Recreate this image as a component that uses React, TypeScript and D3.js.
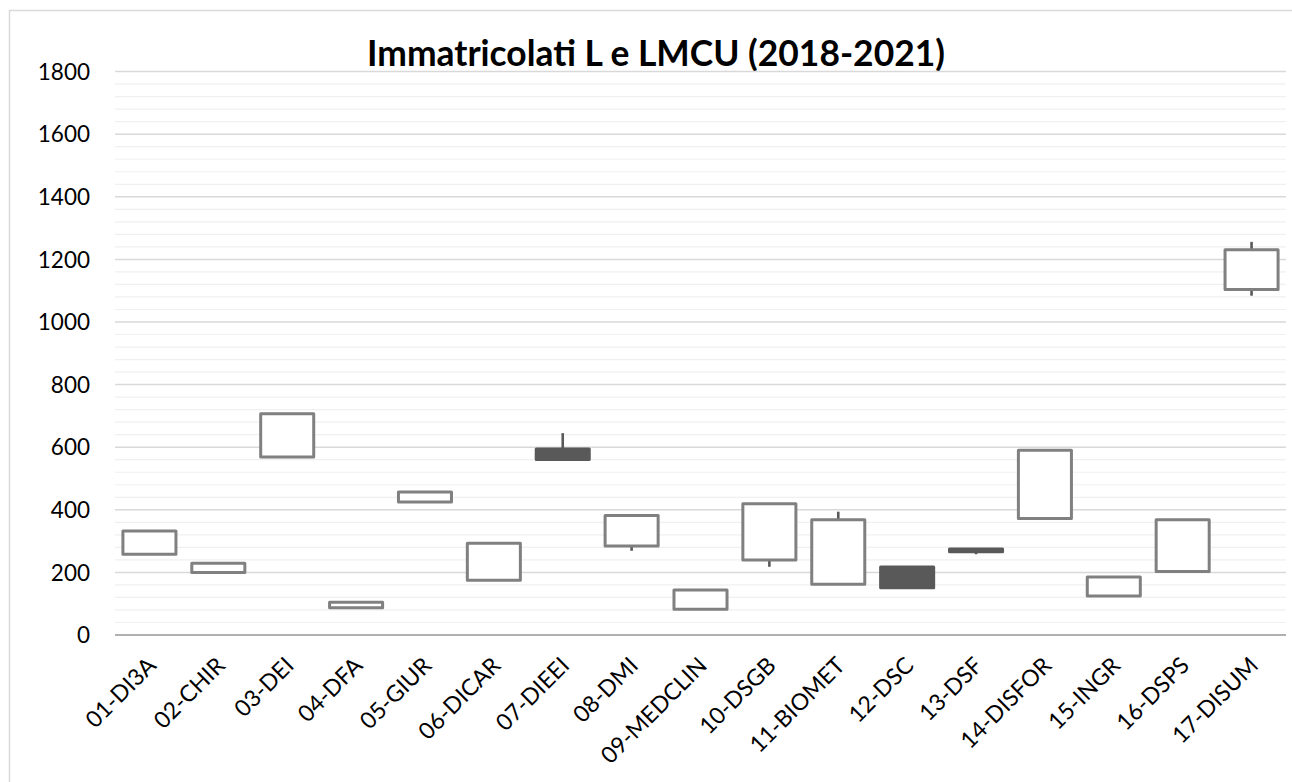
import React from "react";
import * as d3 from "d3";

const categories = [
  "01-DI3A", "02-CHIR", "03-DEI", "04-DFA", "05-GIUR", "06-DICAR", "07-DIEEI", "08-DMI",
  "09-MEDCLIN", "10-DSGB", "11-BIOMET", "12-DSC", "13-DSF", "14-DISFOR", "15-INGR", "16-DSPS", "17-DISUM",
];
const openValues = [258, 200, 569, 87, 425, 175, 594, 284, 82, 240, 162, 217, 275, 372, 125, 203, 1104];
const highValues = [332, 229, 707, 105, 457, 293, 645, 382, 144, 419, 394, 217, 275, 590, 185, 368, 1256];
const lowValues = [258, 200, 569, 87, 425, 175, 561, 269, 82, 218, 162, 151, 258, 372, 125, 203, 1084];
const closeValues = [332, 229, 707, 105, 457, 293, 561, 382, 144, 419, 368, 151, 266, 590, 185, 368, 1231];
const yTicks = [0, 200, 400, 600, 800, 1000, 1200, 1400, 1600, 1800];
const minorTicks = d3.range(0, 1801, 40);
const title = "Immatricolati L e LMCU (2018-2021)";

const W = 1292;
const H = 782;
const left = 115;
const right = 1286;
const top = 71.6;
const bottom = 635;

export default function App() {
  const x = d3.scaleBand<string>().domain(categories).range([left, right]).paddingInner(0.23).paddingOuter(0.115);
  const xc = d3.scaleBand<string>().domain(categories).range([left, right]);
  const y = d3.scaleLinear().domain([0, 1800]).range([bottom, top]);
  const font = "Lato, 'Open Sans', sans-serif";

  return (
    <div style={{ position: "fixed", left: 0, top: 0 }}>
      <svg width={W} height={H} style={{ display: "block", background: "#fff" }}>
        <rect x={9.5} y={10.5} width={1400} height={900} fill="#fff" stroke="#d9d9d9" strokeWidth={1.5} />
        <text x={656} y={66} textAnchor="middle" fontFamily={font} fontWeight={700} fontSize={35.4} fill="#000">
          {title}
        </text>
        {minorTicks.filter((t) => t % 200 !== 0).map((t) => (
          <line key={"m" + t} x1={left} x2={right} y1={y(t)} y2={y(t)} stroke="#f0f0f0" strokeWidth={1.2} />
        ))}
        {yTicks.filter((t) => t !== 0).map((t) => (
          <line key={"g" + t} x1={left} x2={right} y1={y(t)} y2={y(t)} stroke="#d9d9d9" strokeWidth={1.5} />
        ))}
        <line x1={left} x2={right} y1={y(0)} y2={y(0)} stroke="#b0b0b0" strokeWidth={1.8} />
        {yTicks.map((t) => (
          <text key={"t" + t} x={90} y={y(t)} dy="0.36em" textAnchor="end" fontFamily={font} fontSize={22.5} fill="#000">
            {t}
          </text>
        ))}
        {categories.map((c, i) => {
          const cx = (xc(c) as number) + xc.bandwidth() / 2;
          const up = closeValues[i] >= openValues[i];
          const yTop = y(Math.max(openValues[i], closeValues[i]));
          const yBot = y(Math.min(openValues[i], closeValues[i]));
          return (
            <g key={c}>
              <line x1={cx} x2={cx} y1={y(highValues[i])} y2={y(lowValues[i])} stroke="#595959" strokeWidth={2.6} />
              <rect
                x={x(c)}
                y={yTop}
                width={x.bandwidth()}
                height={Math.max(yBot - yTop, 0.5)}
                fill={up ? "#fff" : "#595959"}
                stroke={up ? "#808080" : "#595959"}
                strokeWidth={3}
                strokeLinejoin="round"
              />
            </g>
          );
        })}
        {categories.map((c) => {
          const cx = (xc(c) as number) + xc.bandwidth() / 2;
          return (
            <text
              key={"l" + c}
              transform={`translate(${cx + 8},${667}) rotate(-45)`}
              textAnchor="end"
              fontFamily={font}
              fontSize={23}
              fill="#000"
            >
              {c}
            </text>
          );
        })}
      </svg>
    </div>
  );
}
